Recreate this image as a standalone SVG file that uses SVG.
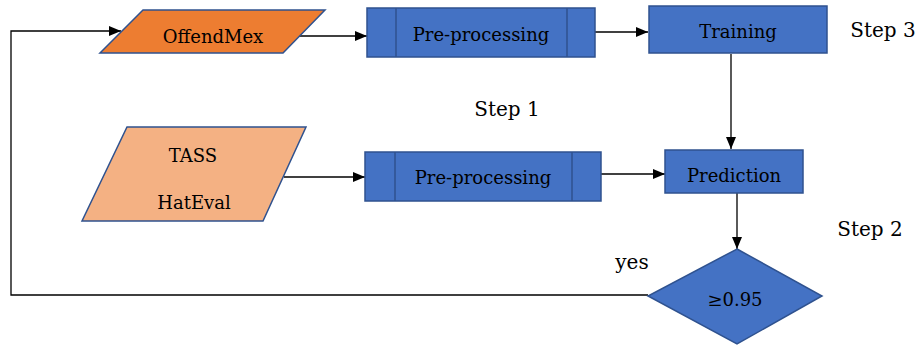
<svg xmlns="http://www.w3.org/2000/svg" width="920" height="345" viewBox="0 0 920 345">
<style>
.box{fill:#4472C4;stroke:#2F528F;stroke-width:1.5}
.inner{stroke:#2F528F;stroke-width:1.5;fill:none}
.t{font-family:"DejaVu Serif","Liberation Serif",serif;font-size:18px;fill:#000;text-anchor:middle;dominant-baseline:central}
.s{font-size:20px}
.c{stroke:#000;stroke-width:1.3;fill:none}
</style>
<defs>
<marker id="ah" markerWidth="12" markerHeight="10" refX="12" refY="5" orient="auto" markerUnits="userSpaceOnUse">
<path d="M0,0 L12,5 L0,10 Z" fill="#000"/>
</marker>
</defs>
<rect width="920" height="345" fill="#fff"/>
<g id="connectors">
<line class="c" x1="299" y1="36" x2="367" y2="36" marker-end="url(#ah)"/>
<line class="c" x1="590" y1="32" x2="648" y2="32" marker-end="url(#ah)"/>
<line class="c" x1="731" y1="54" x2="731" y2="149" marker-end="url(#ah)"/>
<line class="c" x1="284" y1="177" x2="365" y2="177" marker-end="url(#ah)"/>
<line class="c" x1="597" y1="174" x2="665" y2="174" marker-end="url(#ah)"/>
<line class="c" x1="737" y1="193" x2="737" y2="249" marker-end="url(#ah)"/>
<polyline class="c" points="648,295 11,295 11,31 121,31" stroke="#333" marker-end="url(#ah)"/>
</g>
<g id="offendmex">
<polygon points="143,10 325,10 283,53 100,53" fill="#ED7D31" stroke="#2F528F" stroke-width="1.5"/>
<text class="t" x="213" y="36">OffendMex</text>
</g>
<g id="preproc1">
<rect class="box" x="367" y="8" width="228" height="49"/>
<line class="inner" x1="396" y1="8" x2="396" y2="57"/>
<line class="inner" x1="567" y1="8" x2="567" y2="57"/>
<text class="t" x="481" y="34">Pre-processing</text>
</g>
<g id="training">
<rect class="box" x="649" y="6" width="178" height="47"/>
<text class="t" x="738" y="31">Training</text>
</g>
<g id="tass">
<polygon points="127,127 306,127 263,221 82,221" fill="#F4B183" stroke="#2F528F" stroke-width="1.5"/>
<text class="t" x="193" y="155">TASS</text>
<text class="t" x="194" y="202">HatEval</text>
</g>
<g id="preproc2">
<rect class="box" x="365" y="152" width="236" height="49"/>
<line class="inner" x1="395" y1="152" x2="395" y2="201"/>
<line class="inner" x1="572" y1="152" x2="572" y2="201"/>
<text class="t" x="483" y="177">Pre-processing</text>
</g>
<g id="prediction">
<rect class="box" x="665" y="150" width="138" height="43"/>
<text class="t" x="734" y="175">Prediction</text>
</g>
<g id="decision">
<polygon points="737,249 822,296 737,344 648,296" fill="#4472C4" stroke="#2F528F" stroke-width="1.5"/>
<text class="t" x="735" y="299">≥0.95</text>
</g>
<g id="labels">
<text class="t s" x="632" y="262">yes</text>
<text class="t s" x="507" y="109">Step 1</text>
<text class="t s" x="870" y="229">Step 2</text>
<text class="t s" x="883" y="30">Step 3</text>
</g>
</svg>
